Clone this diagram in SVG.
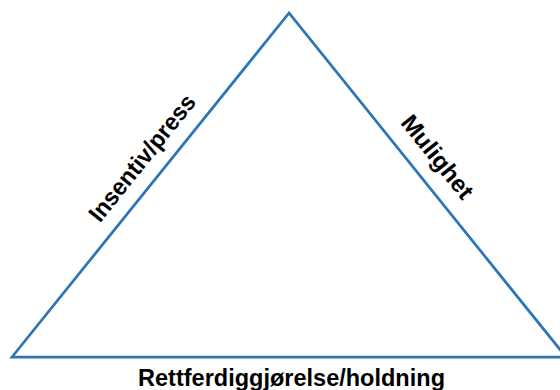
<svg xmlns="http://www.w3.org/2000/svg" width="560" height="390" viewBox="0 0 560 390">
<style>
.edge{fill:none;stroke:#2E75B6;stroke-width:2.75;stroke-linejoin:miter}
.lbl{font-family:"Liberation Sans",Arial,sans-serif;font-weight:bold;font-size:24px;fill:#000}
</style>
<rect width="560" height="390" fill="#fff"/>
<g id="connectors">
<polygon class="edge" points="289,13 12,357 566,357"/>
</g>
<g id="insentiv">
<text class="lbl" text-anchor="middle" textLength="155" lengthAdjust="spacingAndGlyphs" transform="translate(148.5,163) rotate(-51.2)">Insentiv/press</text>
</g>
<g id="mulighet">
<text class="lbl" text-anchor="middle" textLength="100" lengthAdjust="spacingAndGlyphs" transform="translate(431,162) rotate(51.2)">Mulighet</text>
</g>
<g id="rettferdiggjorelse">
<text class="lbl" text-anchor="middle" textLength="307" lengthAdjust="spacingAndGlyphs" x="291.5" y="386">Rettferdiggjørelse/holdning</text>
</g>
</svg>
